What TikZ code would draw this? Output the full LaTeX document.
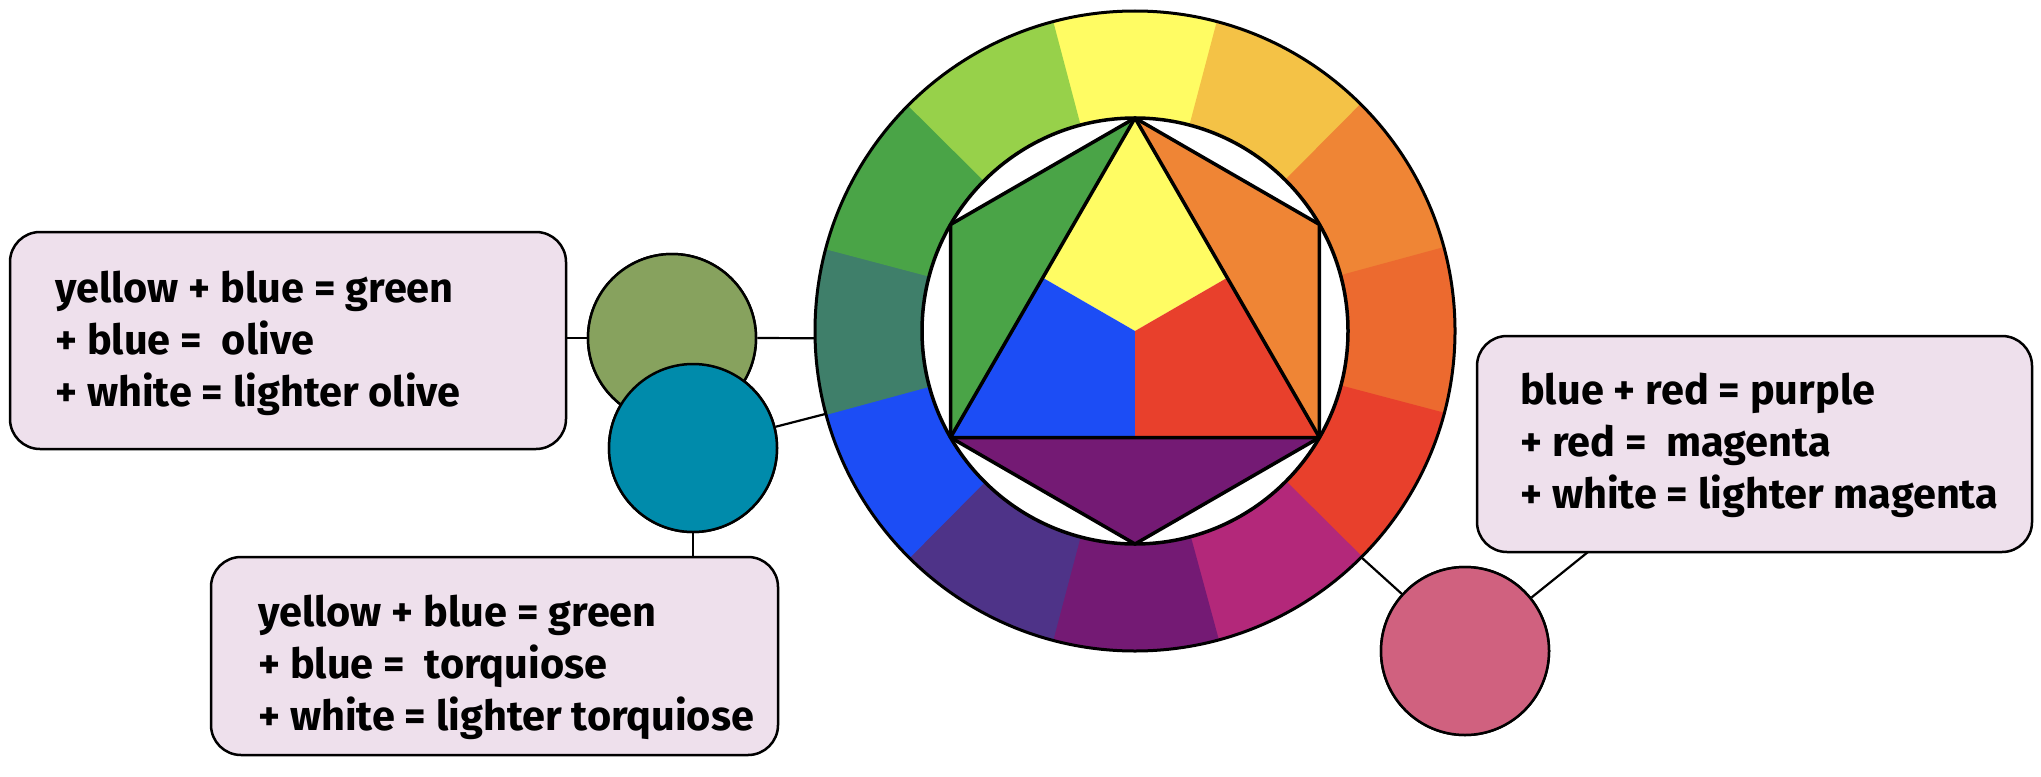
\documentclass[tikz,border=0pt]{standalone}
\usepackage{fontspec}
\setmainfont{Fira Sans}
\usetikzlibrary{calc}
\definecolor{boxfill}{HTML}{EEE0EC}
\definecolor{cY}{HTML}{FFFC63}
\definecolor{cYO}{HTML}{F4C246}
\definecolor{cO}{HTML}{EF8535}
\definecolor{cRO}{HTML}{EC6A2F}
\definecolor{cR}{HTML}{E8402C}
\definecolor{cM}{HTML}{B3287A}
\definecolor{cP}{HTML}{741A74}
\definecolor{cV}{HTML}{4E3388}
\definecolor{cB}{HTML}{1C4DF5}
\definecolor{cT}{HTML}{3F7F6A}
\definecolor{cG}{HTML}{4AA447}
\definecolor{cYG}{HTML}{97D14A}
\definecolor{olive}{HTML}{87A25E}
\definecolor{teal}{HTML}{008BAB}
\definecolor{pinkish}{HTML}{D0617F}
\begin{document}
\begin{tikzpicture}[x=1pt,y=1pt,
  box/.style={draw=black, line width=2.5pt, fill=boxfill, rounded corners=30pt, inner sep=0pt},
  mix/.style={circle, draw=black, line width=2.5pt, minimum size=168pt, inner sep=0pt},
  txt/.style={font=\fontsize{41.5}{52}\selectfont\bfseries, align=left, inner sep=0pt, anchor=west},
  link/.style={draw=black, line width=2.2pt},
  edge/.style={draw=black, line width=3.5pt, line join=round}]
\useasboundingbox (0,0) rectangle (2041,-776);

% boxes
\node[box, minimum width=556pt, minimum height=217pt] (box1) at (288,-340.5) {};
\node[box, minimum width=567pt, minimum height=198pt] (box2) at (494.5,-656) {};
\node[box, minimum width=555pt, minimum height=216pt] (box3) at (1754.5,-444) {};

\node[txt] (t1) at (55,-343) {yellow + blue = green\\+ blue = \ olive\\+ white = lighter olive};
\node[txt] (t2) at (258,-667) {yellow + blue = green\\+ blue = \ torquiose\\+ white = lighter torquiose};
\node[txt] (t3) at (1520,-445) {blue + red = purple\\+ red = \ magenta\\+ white = lighter magenta};

% wheel anchor points
\coordinate (C) at (1135,-331);
\coordinate (w1) at ($(C)+(181.3:320pt)$);
\coordinate (w2) at ($(C)+(195:320pt)$);
\coordinate (w3) at ($(C)+(-45:320pt)$);
\coordinate (b3) at (1588,-552);

% mix circles positions (drawn later)
\path (672,-338) node[mix, fill=olive] (olive) {};
\path (693,-448) node[mix, fill=teal] (teal) {};
\path (1465,-651) node[mix, fill=pinkish] (pink) {};

% connectors
\draw[link] (box1.east |- olive.west) -- (olive.west);
\draw[link] (olive.east) -- (w1);
\draw[link] (teal) -- (w2);
\draw[link] (teal.south) -- (teal.south |- box2.north);
\draw[link] (w3) -- (pink);
\draw[link] (pink) -- (b3);

% redraw circles on top
\node[mix, fill=olive] at (olive) {};
\node[mix, fill=teal] at (teal) {};
\node[mix, fill=pinkish] at (pink) {};

% wheel
\begin{scope}[shift={(1135,-331)}]
  \foreach \a/\c in {90/cY,60/cYO,30/cO,0/cRO,-30/cR,-60/cM,-90/cP,-120/cV,-150/cB,180/cT,150/cG,120/cYG}{
    \fill[\c] (\a-15.2:320pt) arc[start angle=\a-15.2, end angle=\a+15.2, radius=320pt]
      -- (\a+15.2:212pt) arc[start angle=\a+15.2, end angle=\a-15.2, radius=212pt] -- cycle;
  }
  \draw[line width=3pt] (0,0) circle[radius=320pt];
  \fill[white] (0,0) circle[radius=213pt];
  \draw[line width=3.5pt] (0,0) circle[radius=213pt];
  \coordinate (T) at (90:213pt);
  \coordinate (L) at (210:213pt);
  \coordinate (R) at (330:213pt);
  \coordinate (HL) at (150:213pt);
  \coordinate (HR) at (30:213pt);
  \coordinate (HB) at (270:213pt);
  \coordinate (O) at (0,0);
  \coordinate (ML) at ($(T)!0.5!(L)$);
  \coordinate (MR) at ($(T)!0.5!(R)$);
  \coordinate (MB) at ($(L)!0.5!(R)$);
  \fill[cG] (T) -- (HL) -- (L) -- cycle;
  \fill[cO] (T) -- (HR) -- (R) -- cycle;
  \fill[cP] (L) -- (HB) -- (R) -- cycle;
  \fill[cY] (T) -- (ML) -- (O) -- (MR) -- cycle;
  \fill[cB] (L) -- (ML) -- (O) -- (MB) -- cycle;
  \fill[cR] (R) -- (MR) -- (O) -- (MB) -- cycle;
  \draw[edge] (T) -- (HL) -- (L) -- (HB) -- (R) -- (HR) -- cycle;
  \draw[edge] (T) -- (L) -- (R) -- cycle;
\end{scope}
\end{tikzpicture}
\end{document}
